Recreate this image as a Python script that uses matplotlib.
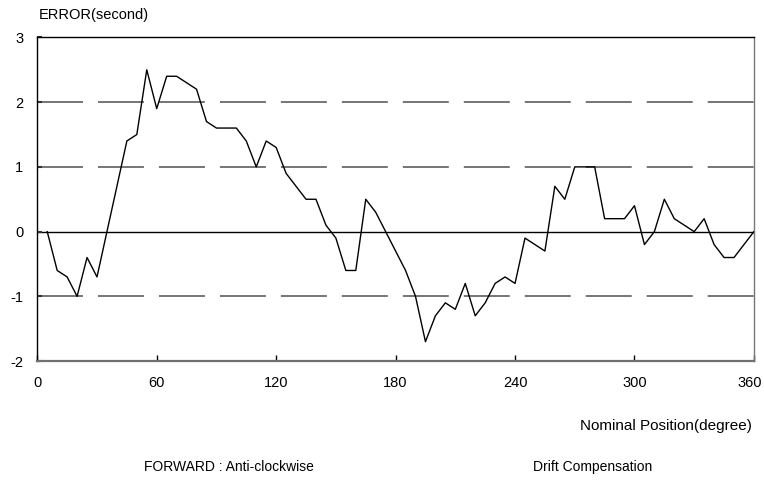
import numpy as np
import matplotlib
matplotlib.use("Agg")
import matplotlib.pyplot as plt
from matplotlib.transforms import ScaledTranslation

plt.rcParams['font.family'] = ['Liberation Sans', 'DejaVu Sans']
plt.rcParams['axes.unicode_minus'] = False

# nominal position (degree) and measured error (second)
position = list(range(5, 361, 5))
error = [0.0, -0.6, -0.7, -1.0, -0.4, -0.7, 0.0, 0.7, 1.4, 1.5,
         2.5, 1.9, 2.4, 2.4, 2.3, 2.2, 1.7, 1.6, 1.6, 1.6,
         1.4, 1.0, 1.4, 1.3, 0.9, 0.7, 0.5, 0.5, 0.1, -0.1,
         -0.6, -0.6, 0.5, 0.3, 0.0, -0.3, -0.6, -1.0, -1.7, -1.3,
         -1.1, -1.2, -0.8, -1.3, -1.1, -0.8, -0.7, -0.8, -0.1, -0.2,
         -0.3, 0.7, 0.5, 1.0, 1.0, 1.0, 0.2, 0.2, 0.2, 0.4,
         -0.2, 0.0, 0.5, 0.2, 0.1, 0.0, 0.2, -0.2, -0.4, -0.4,
         -0.2, 0.0]
xticks = [0, 60, 120, 180, 240, 300, 360]
yticks = [-2, -1, 0, 1, 2, 3]
dashed_levels = [-1, 1, 2]

fs = 10.5
fig = plt.figure(figsize=(7.64, 4.86), dpi=100)
ax = fig.add_axes([0.0488, 0.257, 0.938, 0.666])

# dashes are in units of linewidth: ~46 px on, ~15 px off
grid_lw = 1.3
for lv in dashed_levels:
    ax.axhline(lv, color='#6a6a6a', lw=grid_lw,
               dashes=(33.1 / grid_lw, 10.8 / grid_lw), zorder=1)
ax.axhline(0, color='black', lw=1.0, zorder=1)

ax.plot(position, error, color='black', lw=1.0, zorder=3)

ax.set_xlim(0, 360)
ax.set_ylim(-2, 3)
ax.set_xticks(xticks)
ax.set_yticks(yticks)
ax.tick_params(axis='x', direction='in', length=4.3, width=1, pad=10.5,
               labelsize=fs, color='black')
ax.tick_params(axis='y', direction='in', length=3.6, width=1.5, pad=10,
               labelsize=fs, color='#333333')

# keep the last x label inside the figure
last = ax.xaxis.get_major_ticks()[-1].label1
last.set_transform(last.get_transform() + ScaledTranslation(-0.04, 0, fig.dpi_scale_trans))

for s in ['top', 'left']:
    ax.spines[s].set_color('black')
    ax.spines[s].set_linewidth(1.0)
ax.spines['right'].set_color('#777777')
ax.spines['right'].set_linewidth(1.0)
ax.spines['bottom'].set_color('#707070')
ax.spines['bottom'].set_linewidth(1.6)

fig.text(39 / 764, 1 - 19 / 486, 'ERROR(second)', fontsize=fs, ha='left', va='baseline')
fig.text(752 / 764, 1 - 430 / 486, 'Nominal Position(degree)', fontsize=11,
         ha='right', va='baseline')
fig.text(229 / 764, 1 - 471 / 486, 'FORWARD : Anti-clockwise', fontsize=10,
         ha='center', va='baseline')
fig.text(593 / 764, 1 - 471 / 486, 'Drift Compensation', fontsize=10,
         ha='center', va='baseline')

fig.savefig('out.png', dpi=100)
